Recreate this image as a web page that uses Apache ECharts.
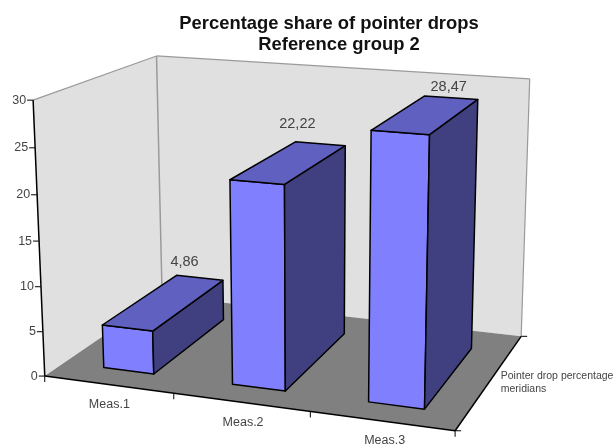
<!DOCTYPE html>
<html><head><meta charset="utf-8">
<style>html,body{margin:0;padding:0;background:#fff}#c{width:616px;height:446px}</style>
<script src="https://cdn.jsdelivr.net/npm/echarts@6/dist/echarts.min.js"></script>
</head><body><div id="c"></div>
<script>
const categories = ['Meas.1', 'Meas.2', 'Meas.3'];
const values = [4.86, 22.22, 28.47];
const valueTicks = [0, 5, 10, 15, 20, 25, 30];
const titleLines = ['Percentage share of pointer drops', 'Reference group 2'];
const depthName = ['Pointer drop percentage', 'meridians'];

const FONT = '"Liberation Sans", Arial, sans-serif';
const C = {wall:'#e0e0e0', wallEdge:'#9a9a9a', floor:'#808080', front:'#8080ff', top:'#6060c0', side:'#404080', ink:'#000', text:'#444'};
const BAR = {x0:0.315, x1:0.71, d0:0.15, d1:0.8};
const LABEL_NUDGE = [[8,-13],[2,-18],[24,-9]];

// Camera calibration: scene (category, depth, value) -> screen
const calib = [
 [[0,0,0],[44,376]],[[3,0,0],[455,431]],[[3,1,0],[521,336]],[[0,1,0],[163,296]],
 [[0,0,30],[34,100]],[[0,1,30],[155.5,56]],[[3,1,30],[530,79]]
];
function fit(){
  const rows=[],rhs=[];
  calib.forEach(([[x,d,v],[u,w]])=>{
    rows.push([x,d,v,1,0,0,0,0,-u*x,-u*d,-u*v]);rhs.push(u);
    rows.push([0,0,0,0,x,d,v,1,-w*x,-w*d,-w*v]);rhs.push(w);
  });
  const n=11,A=[];
  for(let i=0;i<n;i++){A[i]=[];for(let j=0;j<n;j++){let s=0;rows.forEach(r=>s+=r[i]*r[j]);A[i][j]=s+(i===j?1e-9:0);}
    let s=0;rows.forEach((r,k)=>s+=r[i]*rhs[k]);A[i][n]=s;}
  for(let i=0;i<n;i++){let p=i;for(let k=i+1;k<n;k++)if(Math.abs(A[k][i])>Math.abs(A[p][i]))p=k;
    [A[i],A[p]]=[A[p],A[i]];
    for(let k=0;k<n;k++){if(k===i)continue;const f=A[k][i]/A[i][i];for(let j=i;j<=n;j++)A[k][j]-=f*A[i][j];}}
  return A.map((r,i)=>r[n]/r[i]);
}
const M=fit();
function P(x,d,v){const w=M[8]*x+M[9]*d+M[10]*v+1;
  return [(M[0]*x+M[1]*d+M[2]*v+M[3])/w,(M[4]*x+M[5]*d+M[6]*v+M[7])/w];}
const poly=(pts,fill,stroke,lw)=>({type:'polygon',shape:{points:pts},style:{fill:fill,stroke:stroke||'none',lineWidth:lw||0,lineJoin:'round'}});
const line=(a,b,stroke,lw)=>({type:'line',shape:{x1:a[0],y1:a[1],x2:b[0],y2:b[1]},style:{stroke:stroke,lineWidth:lw}});
const text=(s,x,y,size,align,extra)=>({type:'text',style:Object.assign({text:s,x:x,y:y,fill:C.text,font:size+'px '+FONT,textAlign:align||'center',textVerticalAlign:'middle'},extra||{})});
const vMax=valueTicks[valueTicks.length-1],nC=categories.length;

function frame(){
  const A=P(0,0,0),B=P(nC,0,0),Cc=P(nC,1,0),D=P(0,1,0),E=P(0,0,vMax),F=P(0,1,vMax),G=P(nC,1,vMax);
  const ch=[
    poly([E,F,D,A],C.wall),poly([F,G,Cc,D],C.wall),
    line(E,F,C.wallEdge,1.2),line(F,G,C.wallEdge,1.2),line(F,D,C.wallEdge,1.5),line(G,Cc,C.wallEdge,1.2),
    poly([A,B,Cc,D],C.floor),
    line(E,A,C.ink,1.5),line(A,B,C.ink,1.5),line(B,Cc,C.ink,1.5)
  ];
  for(let i=0;i<=nC;i++){const p=P(i,0,0);ch.push(line(p,[p[0],p[1]+6],C.ink,1));}
  [0,1].forEach(d=>{const p=P(nC,d,0);ch.push(line(p,[p[0]+6,p[1]],C.ink,1));});
  return {type:'group',children:ch};
}
function bar(params,api){
  const i=api.value(0),v=api.value(1),x0=i+BAR.x0,x1=i+BAR.x1,d0=BAR.d0,d1=BAR.d1;
  const fb0=P(x0,d0,0),fb1=P(x1,d0,0),bb1=P(x1,d1,0),ft0=P(x0,d0,v),ft1=P(x1,d0,v),bt0=P(x0,d1,v),bt1=P(x1,d1,v);
  const n=LABEL_NUDGE[i];
  return {type:'group',children:[
    poly([fb0,fb1,ft1,ft0],C.front,C.ink,1.5),
    poly([fb1,bb1,bt1,ft1],C.side,C.ink,1.5),
    poly([ft0,ft1,bt1,bt0],C.top,C.ink,1.5),
    text(String(v).replace('.',','),bt0[0]+n[0],bt0[1]+n[1],14.5,'center')
  ]};
}
const chart=echarts.init(document.getElementById('c'),null,{renderer:'canvas'});
chart.setOption({
  animation:false,
  title:[
    {text:titleLines[0],left:324,top:10,textAlign:'center',textStyle:{fontFamily:FONT,fontSize:18.4,fontWeight:'bold',color:'#111'}},
    {text:titleLines[1],left:334,top:31,textAlign:'center',textStyle:{fontFamily:FONT,fontSize:18.4,fontWeight:'bold',color:'#111'}}
  ],
  series:[
    {type:'custom',coordinateSystem:'none',silent:true,z:1,data:[0],renderItem:frame},
    {type:'custom',coordinateSystem:'none',silent:true,z:2,data:values.map((v,i)=>[i,v]),encode:{},renderItem:bar},
    {type:'custom',coordinateSystem:'none',silent:true,z:3,data:valueTicks,renderItem:(p,api)=>{
      const t=api.value(0),q=P(0,0,t);
      return {type:'group',children:[line(q,[q[0]-6,q[1]],C.ink,1),text(String(t),q[0]-7,q[1],12.5,'right')]};}},
    {type:'custom',coordinateSystem:'none',silent:true,z:3,data:categories.map((c,i)=>[i]),renderItem:(p,api)=>{
      const i=api.value(0),q=P(i+0.5,0,0);
      return text(categories[i],q[0]+1+i,q[1]+20,12.5,'center');}},
    {type:'custom',coordinateSystem:'none',silent:true,z:3,data:depthName.map((c,i)=>[i]),renderItem:(p,api)=>{
      const i=api.value(0),q=P(nC,0.5,0);
      return text(depthName[i],q[0]+10,q[1]-4+i*13,10.5,'left');}}
  ]
});
</script></body></html>
